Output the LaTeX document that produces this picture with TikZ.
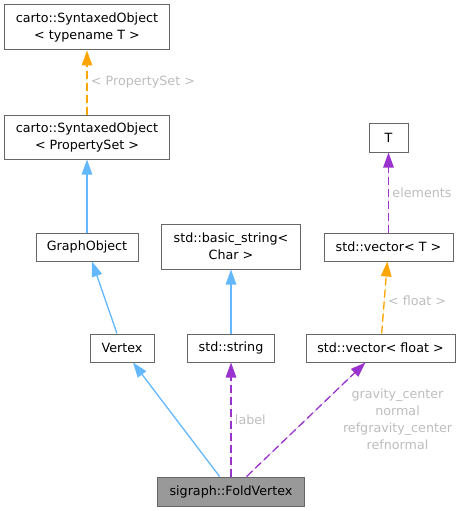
\documentclass[tikz,border=0pt]{standalone}
\usepackage{fontspec}
\setmainfont{DejaVu Sans}
\usepackage{tikz}
\usetikzlibrary{arrows.meta}
\usepackage{xcolor}
\definecolor{inheritcolor}{HTML}{63B8FF}
\definecolor{usagecolor}{HTML}{9A32CD}
\definecolor{templcolor}{HTML}{FFA500}
\definecolor{lblcolor}{HTML}{BDBDBD}
\definecolor{boxcolor}{HTML}{666666}

\begin{document}
\begin{tikzpicture}[
    x=1pt, y=-1pt,
    cls/.style={draw=boxcolor, line width=1pt, fill=white, align=center, minimum height=28pt, inner sep=0pt, font=\fontsize{12.7}{17}\selectfont},
    inherit/.style={-{Triangle[length=15pt,width=10.5pt]}, draw=inheritcolor, fill=inheritcolor, line width=1.3pt},
    usage/.style={-{Triangle[length=15pt,width=10.5pt]}, draw=usagecolor, fill=usagecolor, line width=1.3pt, dash pattern=on 8pt off 4pt},
    templ/.style={-{Triangle[length=15pt,width=10.5pt]}, draw=templcolor, fill=templcolor, line width=1.3pt, dash pattern=on 8pt off 4pt},
    lbl/.style={text=lblcolor, align=center, font=\fontsize{12.7}{17}\selectfont}
]
    \useasboundingbox (0,0) rectangle (461,511);

    % classes
    \node[cls, minimum width=165pt, minimum height=45pt] (sot) at (87, 27.5) {carto::SyntaxedObject\\< typename T >};
    \node[cls, minimum width=165pt, minimum height=44pt] (sops) at (87, 137) {carto::SyntaxedObject\\< PropertySet >};
    \node[cls, minimum width=102pt] (go) at (87, 247) {GraphObject};
    \node[cls, minimum width=139pt, minimum height=45pt] (bstr) at (231, 246.5) {std::basic\_string<\\Char >};
    \node[cls, minimum width=129pt] (vt) at (388.5, 247) {std::vector< T >};
    \node[cls, minimum width=39pt, minimum height=29pt] (t) at (388.5, 137.5) {T};
    \node[cls, minimum width=64pt] (vx) at (122, 348) {Vertex};
    \node[cls, minimum width=87pt] (str) at (231, 348) {std::string};
    \node[cls, minimum width=149pt] (vf) at (380.5, 348) {std::vector< float >};
    \node[cls, minimum width=147pt, minimum height=29pt, fill=black!40] (fv) at (231, 491.5) {sigraph::FoldVertex};

    % edges
    \draw[templ] (sops) -- node[lbl, right] {< PropertySet >} (sot);
    \draw[inherit] (go) -- (sops);
    \draw[inherit] (vx) -- (go);
    \draw[inherit] (str) -- (bstr);
    \draw[usage] (vt) -- node[lbl, right] {elements} (t);
    \draw[templ] (vf) -- node[lbl, right, pos=0.45] {< float >} (vt);
    \draw[inherit] (fv) -- (vx);
    \draw[usage] (fv) -- node[lbl, right] {label} (str);
    \draw[usage] (fv) -- node[lbl, right=33pt] {gravity\_center\\normal\\refgravity\_center\\refnormal} (vf);
\end{tikzpicture}
\end{document}
